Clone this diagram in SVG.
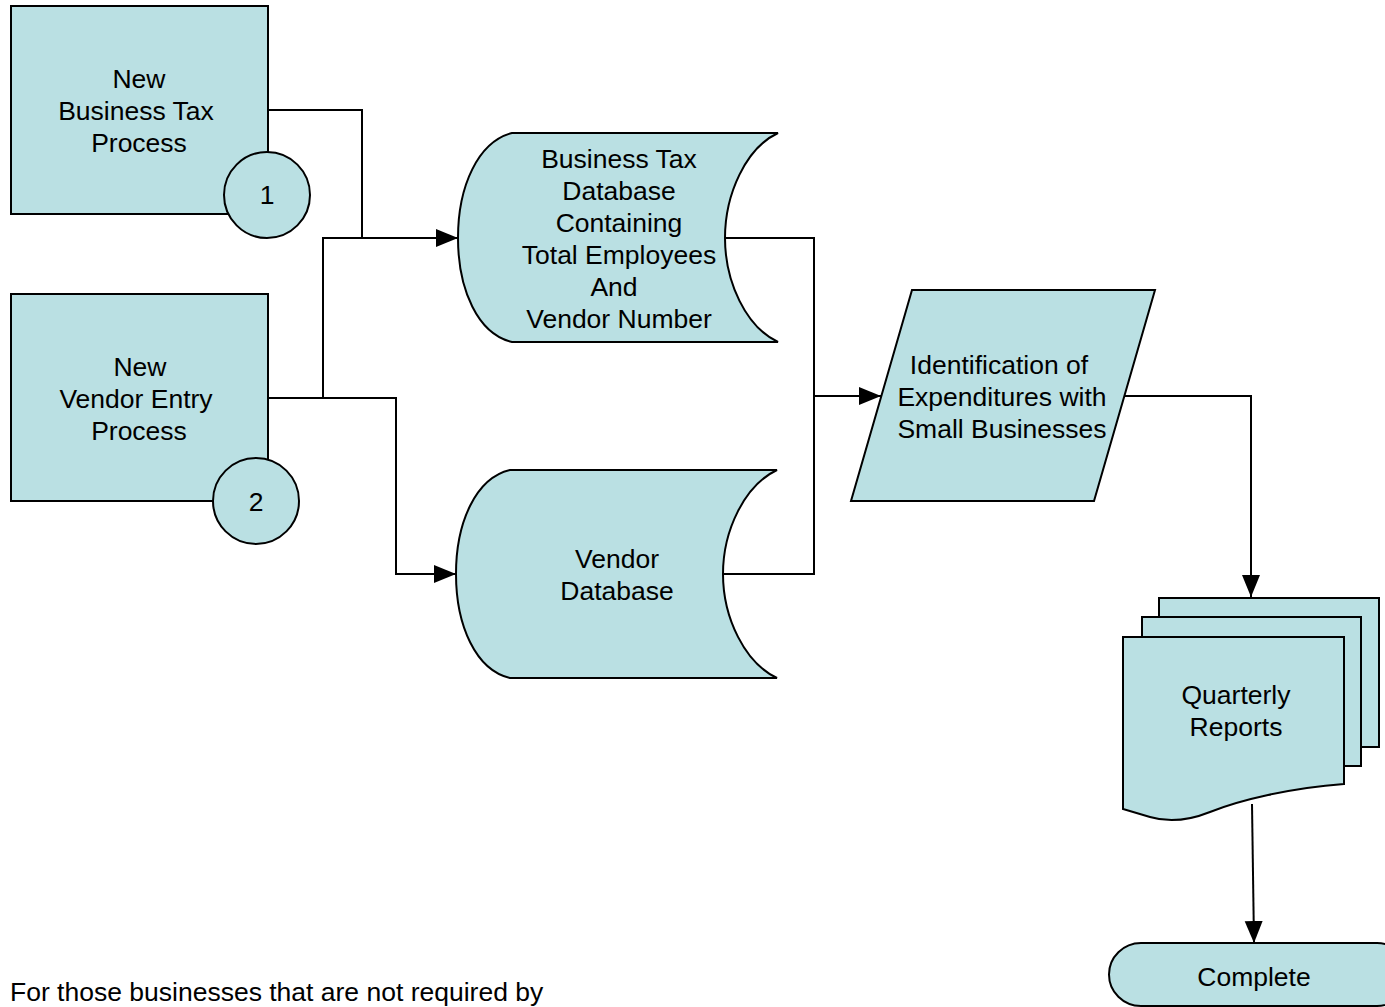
<svg xmlns="http://www.w3.org/2000/svg" width="1385" height="1007" viewBox="0 0 1385 1007">
<defs>
<style>
.shape{fill:#BAE0E3;stroke:#000;stroke-width:2}
.t{font-family:"Liberation Sans",Arial,sans-serif;font-size:26.5px;fill:#000;text-anchor:middle}
.c{fill:none;stroke:#000;stroke-width:2}
</style>
<marker id="arr" markerUnits="userSpaceOnUse" markerWidth="24" markerHeight="20" viewBox="0 0 24 20" refX="22" refY="10" orient="auto">
<path d="M0,1 L22,10 L0,19 Z" fill="#000"/>
</marker>
</defs>
<rect width="1385" height="1007" fill="#fff"/>

<g id="connectors">
<path class="c" d="M268,110 H362 V238"/>
<path class="c" d="M268,398 H323 V238 H458" marker-end="url(#arr)"/>
<path class="c" d="M323,398 H396 V574 H456" marker-end="url(#arr)"/>
<path class="c" d="M725,238 H814 V574 H723"/>
<path class="c" d="M814,396 H881" marker-end="url(#arr)"/>
<path class="c" d="M1124,396 H1251 V597" marker-end="url(#arr)"/>
<path class="c" d="M1252,804 L1254,943" marker-end="url(#arr)"/>
</g>

<g id="node-business-tax-process">
<rect class="shape" x="11" y="6" width="257" height="208"/>
<text class="t" x="139" y="88">New</text>
<text class="t" x="136" y="120">Business Tax</text>
<text class="t" x="139" y="152">Process</text>
<circle class="shape" cx="267" cy="195" r="43"/>
<text class="t" x="267" y="204">1</text>
</g>

<g id="node-vendor-entry-process">
<rect class="shape" x="11" y="294" width="257" height="207"/>
<text class="t" x="140" y="376">New</text>
<text class="t" x="136" y="408">Vendor Entry</text>
<text class="t" x="139" y="440">Process</text>
<circle class="shape" cx="256" cy="501" r="43"/>
<text class="t" x="256" y="511">2</text>
</g>

<g id="node-business-tax-db">
<path class="shape" d="M512,133 H778 C746,148 725,194 725,238 C725,282 746,327 778,342 H512 C478,334 458,290 458,238 C458,186 478,142 512,133 Z"/>
<text class="t" x="619" y="168">Business Tax</text>
<text class="t" x="619" y="200">Database</text>
<text class="t" x="619" y="232">Containing</text>
<text class="t" x="619" y="264">Total Employees</text>
<text class="t" x="614" y="296">And</text>
<text class="t" x="619" y="328">Vendor Number</text>
</g>

<g id="node-vendor-db">
<path class="shape" d="M510,470 H777 C745,485 723,530 723,574 C723,618 745,663 777,678 H510 C476,670 456,626 456,574 C456,522 476,478 510,470 Z"/>
<text class="t" x="617" y="568">Vendor</text>
<text class="t" x="617" y="600">Database</text>
</g>

<g id="node-identification">
<polygon class="shape" points="912,290 1155,290 1094,501 851,501"/>
<text class="t" x="999" y="374">Identification of</text>
<text class="t" x="1002" y="406">Expenditures with</text>
<text class="t" x="1002" y="438">Small Businesses</text>
</g>

<g id="node-quarterly-reports">
<rect class="shape" x="1159" y="598" width="220" height="149"/>
<rect class="shape" x="1142" y="617" width="219" height="149"/>
<path class="shape" d="M1123,637 H1344 V784 C1290,788 1240,800 1210,812 C1190,820 1170,823 1150,817 L1123,809 Z"/>
<text class="t" x="1236" y="704">Quarterly</text>
<text class="t" x="1236" y="736">Reports</text>
</g>

<g id="node-complete">
<rect class="shape" x="1109" y="943" width="300" height="63" rx="32" ry="32"/>
<text class="t" x="1254" y="986">Complete</text>
</g>

<g id="note">
<text class="t" x="10" y="1001" style="text-anchor:start">For those businesses that are not required by</text>
</g>
</svg>
